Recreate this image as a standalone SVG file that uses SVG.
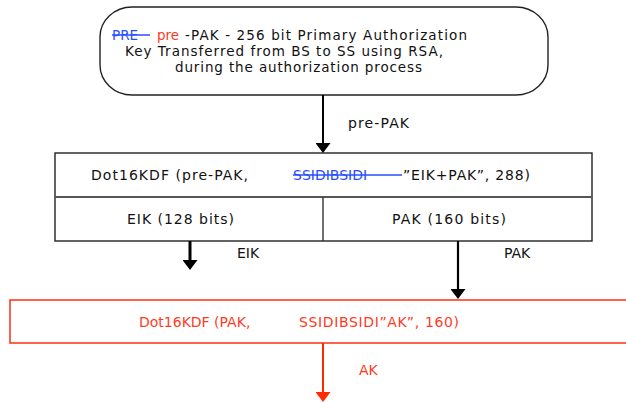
<svg xmlns="http://www.w3.org/2000/svg" width="626" height="403" viewBox="0 0 626 403">
  <style>
    text { font-family: "DejaVu Sans", "Liberation Sans", sans-serif; font-size: 14px; fill: #111; }
    .small { font-size: 13.5px; }
    .red { fill: #ff3b1e; }
    .blue { fill: #2a4cff; }
    .strike { stroke: #2a4cff; stroke-width: 1.3; }
    .box { fill: #fff; stroke: #222; stroke-width: 1.4; }
    .rbox { fill: #fff; stroke: #ff3b1e; stroke-width: 1.6; }
    .arrow { stroke: #000; fill: none; }
    .rarrow { stroke: #ff2a00; fill: none; stroke-width: 2; }
  </style>
  <defs>
    <marker id="head" markerUnits="userSpaceOnUse" markerWidth="11" markerHeight="15" refX="0" refY="7.5" orient="auto">
      <path d="M0,0 L10,7.5 L0,15 Z" fill="#000"/>
    </marker>
    <marker id="rhead" markerUnits="userSpaceOnUse" markerWidth="11" markerHeight="15" refX="0" refY="7.5" orient="auto">
      <path d="M0,0 L10,7.5 L0,15 Z" fill="#ff2a00"/>
    </marker>
  </defs>

  <!-- pre-PAK source -->
  <g id="prepak">
    <rect class="box" x="100" y="7" width="448" height="88" rx="32" ry="30"/>
    <text x="112" y="40" class="small blue">PRE</text>
    <line class="strike" x1="112" y1="35" x2="150" y2="35"/>
    <text x="157" y="40" class="small red">pre</text>
    <text x="185" y="40" class="small" textLength="282">-PAK - 256 bit Primary Authorization</text>
    <text x="125" y="56" class="small" textLength="318">Key Transferred from BS to SS using RSA,</text>
    <text x="175" y="72" class="small" textLength="247">during the authorization process</text>
  </g>

  <!-- first key derivation -->
  <g id="kdf1">
    <rect class="box" x="55" y="153" width="537" height="88"/>
    <line x1="55" y1="197" x2="592" y2="197" stroke="#555" stroke-width="2"/>
    <line x1="323" y1="197" x2="323" y2="241" stroke="#333" stroke-width="1.4"/>
    <text x="91" y="180" textLength="157">Dot16KDF (pre-PAK,</text>
    <text x="293" y="180" class="blue">SSIDIBSIDI</text>
    <line class="strike" x1="293" y1="175" x2="402" y2="175"/>
    <text x="403" y="180" textLength="127">”EIK+PAK”, 288)</text>
  </g>
  <g id="eik">
    <text x="127" y="224" textLength="107">EIK (128 bits)</text>
  </g>
  <g id="pak">
    <text x="392" y="224" textLength="114">PAK (160 bits)</text>
  </g>

  <!-- second key derivation -->
  <g id="kdf2">
    <rect class="rbox" x="10" y="300" width="640" height="43"/>
    <text x="139" y="327" class="red">Dot16KDF (PAK,</text>
    <text x="299" y="327" class="red" textLength="160">SSIDIBSIDI”AK”, 160)</text>
  </g>

  <!-- connectors -->
  <g id="connectors">
    <line class="arrow" x1="323" y1="95" x2="323" y2="143" stroke-width="2" marker-end="url(#head)"/>
    <line class="arrow" x1="190" y1="241" x2="190" y2="260" stroke-width="3" marker-end="url(#head)"/>
    <line class="arrow" x1="458" y1="241" x2="458" y2="289" stroke-width="2.2" marker-end="url(#head)"/>
    <line class="rarrow" x1="323" y1="343" x2="323" y2="392" marker-end="url(#rhead)"/>
    <text x="348" y="128" textLength="61">pre-PAK</text>
    <text x="237" y="258">EIK</text>
    <text x="504" y="258">PAK</text>
    <text x="359" y="375" class="red">AK</text>
  </g>
</svg>
